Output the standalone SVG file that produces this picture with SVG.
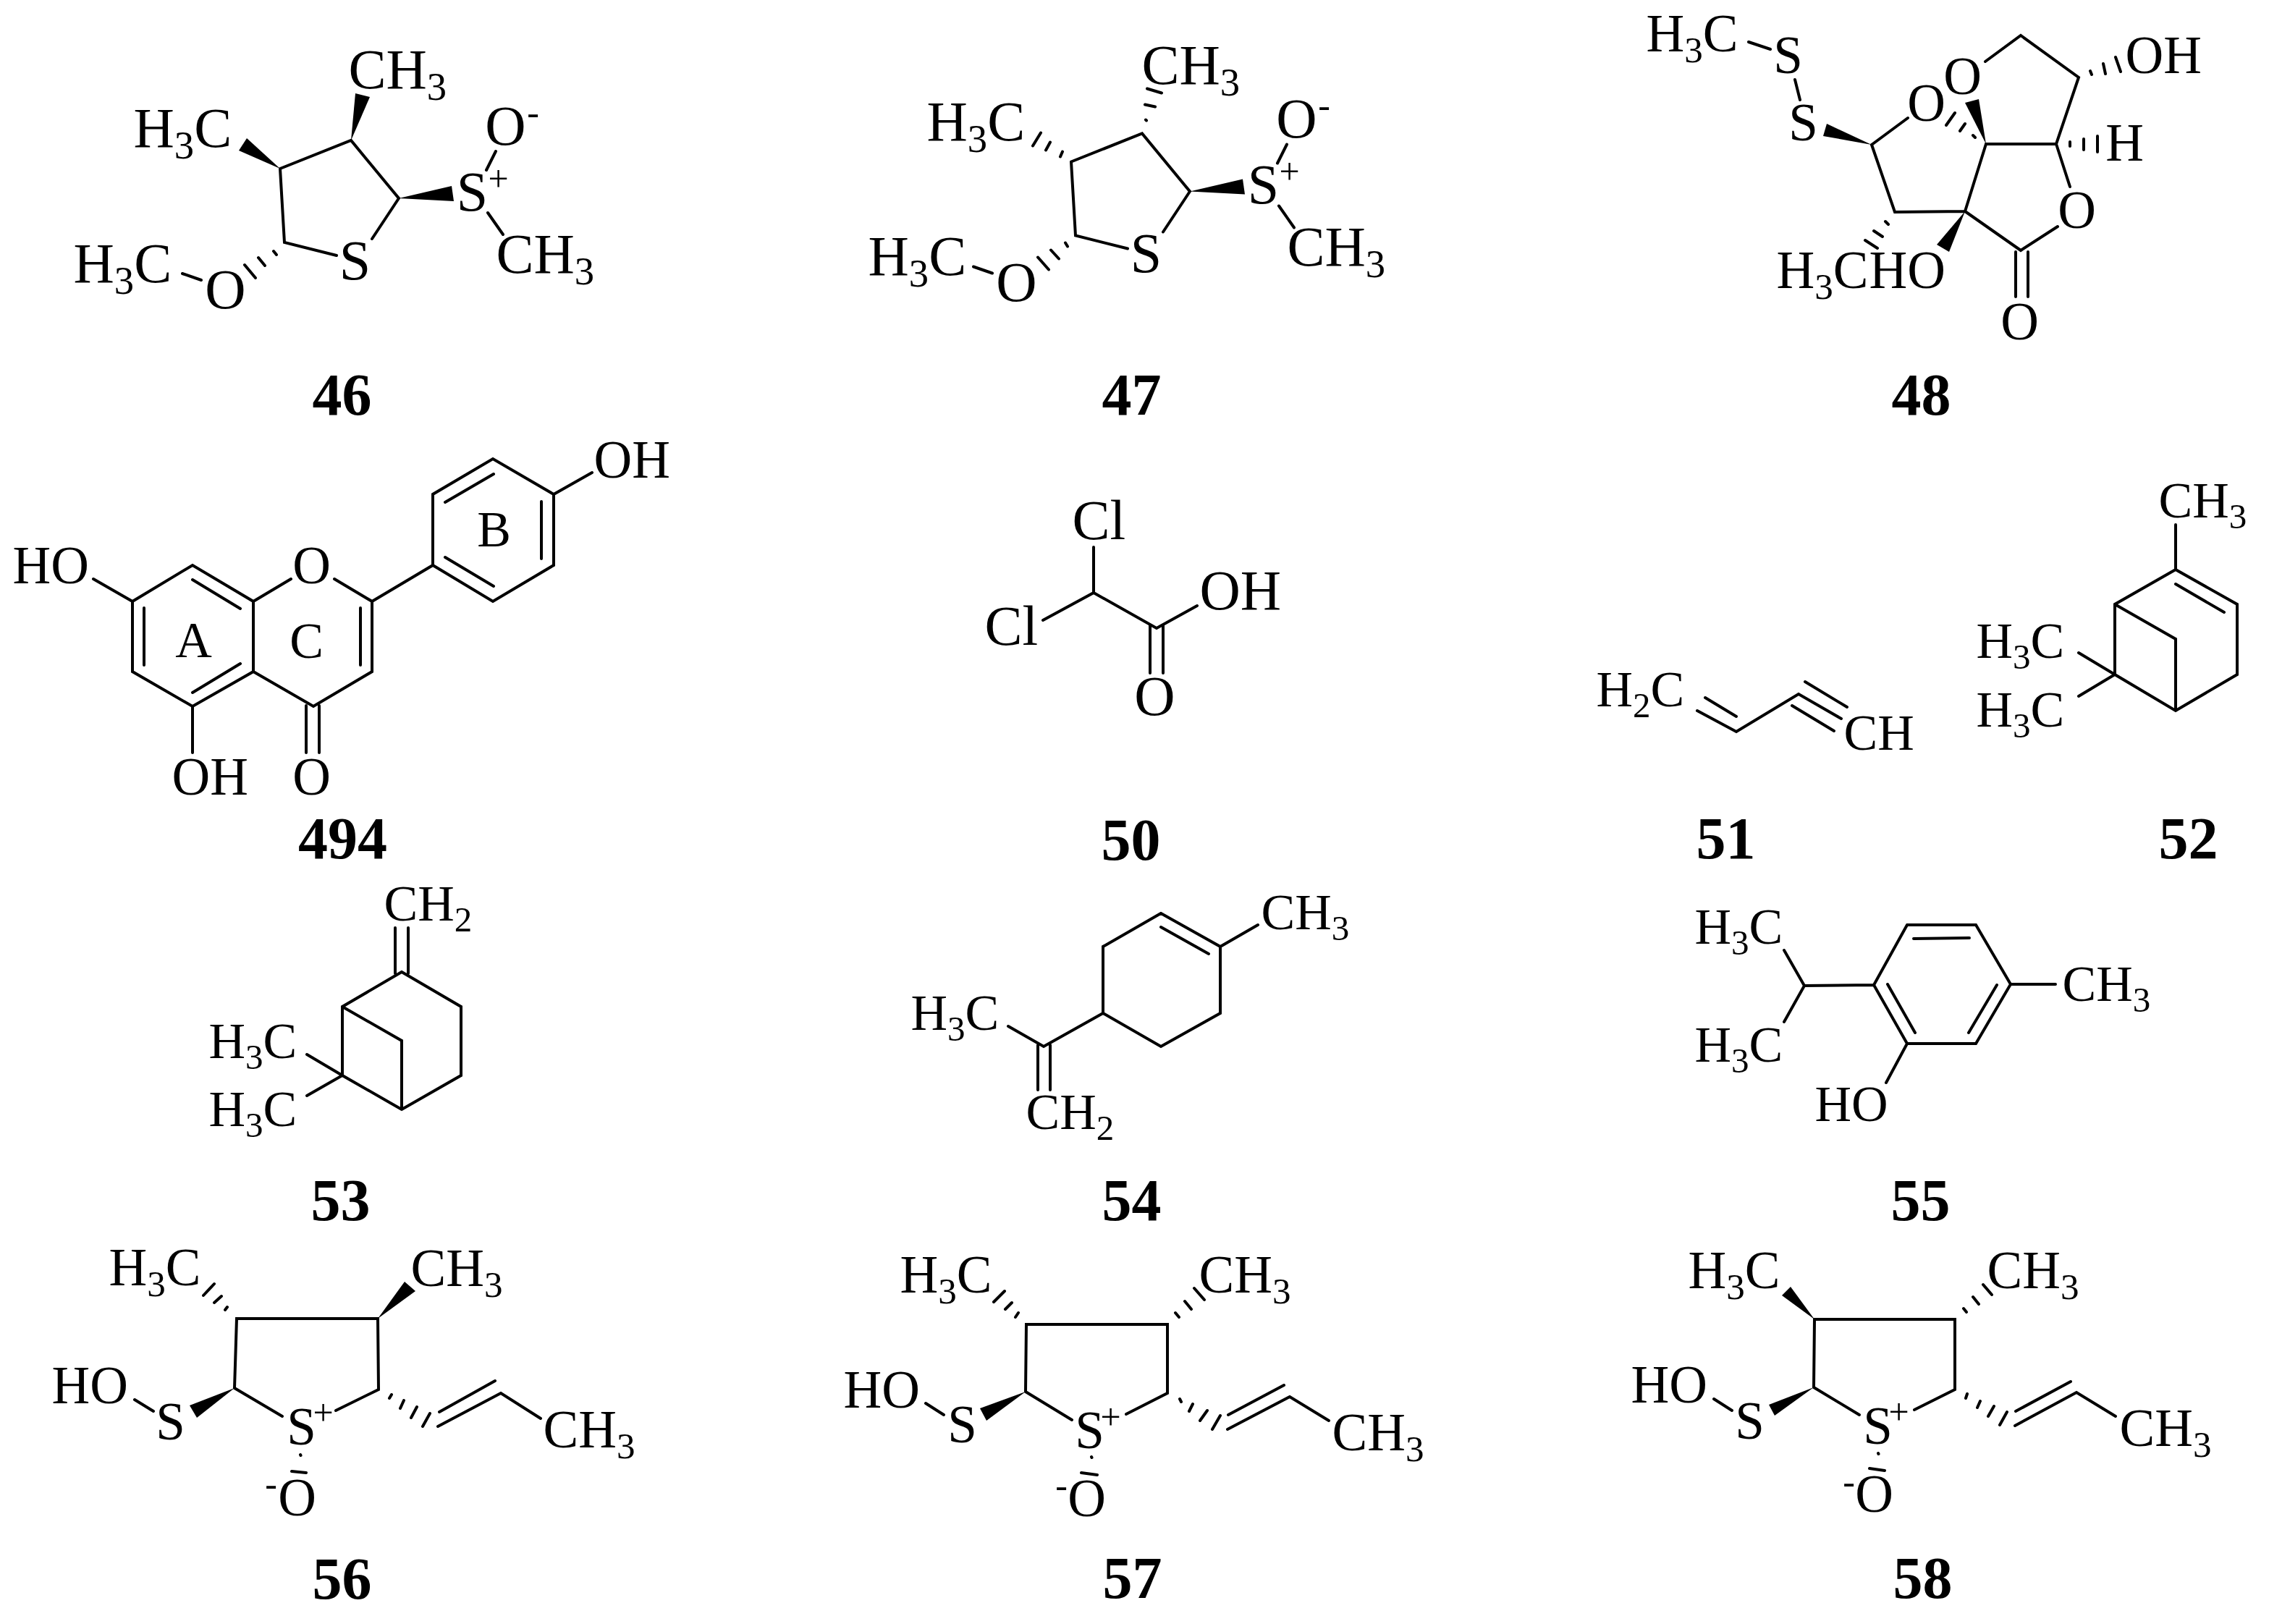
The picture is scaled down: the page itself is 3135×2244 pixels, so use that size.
<svg xmlns="http://www.w3.org/2000/svg" width="3135" height="2244" viewBox="0 0 3135 2244">
<style>
text{font-family:"Liberation Serif","Times New Roman",serif;fill:#000;transform:translate(-2.5px,0)}
.a{font-size:78px}.b{font-size:73px}.c{font-size:70px}
.m{text-anchor:middle}
.u{font-size:.7em;baseline-shift:-.3em}
.q{font-size:50px;text-anchor:middle}
.n{font-size:82px;font-weight:bold;text-anchor:middle;transform:translate(-2.5px,-2px)}
.l{fill:none;stroke:#000;stroke-width:4;stroke-linecap:round;stroke-linejoin:miter}
.w{fill:#000}
</style>
<rect width="3135" height="2244" fill="#fff"/>
<g id="connectors">
<g id="bonds-46">
<path class="l" d="M387 233L485 194L551 274L514 330M387 233L393 335L465 353M672 235L685 209M674 294L695 324M252 378L278 387M378 347L382 352M357 356L366 367M338 366L353 384"/>
<polygon class="w" points="485,194 491,129 511,134"/><polygon class="w" points="387,233 341,191 330,208"/><polygon class="w" points="551,274 624,257 627,278"/>
</g>
<g id="bonds-47" transform="translate(1093 -9.5)">
<path class="l" d="M387 233L485 194L551 274L514 330M387 233L393 335L465 353M672 235L685 209M674 294L695 324M252 378L278 387M379 345L382 350M359 355L370 367M341 365L356 382M490 175L491 176M489 154L503 157M492 132L512 138M375 219L372 226M358 206L352 217M345 193L334 211"/>
<polygon class="w" points="551,274 624,257 627,278"/>
</g>
<g id="bonds-48">
<path class="l" d="M2416 58L2446 68M2480 110L2487 138M2586 200L2636 163M2586 200L2618 293L2715 292L2744 199L2841 199L2872 107L2792 49L2743 85M2841 199L2860 258M2843 313L2792 346L2715 292M2785 348V410M2802 348V410M2726 187L2729 190M2708 181L2715 171M2689 173L2701 156M2605 306L2609 310M2589 319L2601 327M2577 332L2594 343M2888 98L2890 103M2906 88L2909 102M2923 79L2930 99M2860 196V202M2879 192V207M2898 188V210"/>
<polygon class="w" points="2586,200 2524,171 2519,188"/><polygon class="w" points="2744,199 2715,142 2734,137"/><polygon class="w" points="2715,292 2676,338 2693,348"/>
</g>
<g id="bonds-494">
<path class="l" d="M183 831L266 781L350 831V928L266 976L183 928ZM199 840V919M266 801L332 841M332 917L266 957M350 831L402 800M462 800L514 831V928L433 976L350 928M498 840V919M423 975V1040M441 975V1040M266 976V1040M129 800L183 831M514 831L598 781V683L681 634L765 683V781L681 831L598 781M615 694L682 655M748 693V772M615 770L682 810M765 683L818 653"/>
</g>
<g id="bonds-50">
<path class="l" d="M1511 756V819L1441 857M1511 819L1598 868L1654 837M1589 864V930M1607 864V930"/>
</g>
<g id="bonds-51">
<path class="l" d="M2345 982L2399 1011L2485 959L2544 993M2356 964L2399 990M2494 942L2552 977M2476 975L2534 1010"/>
</g>
<g id="bonds-52">
<path class="l" d="M3006 725V787L3091 835V932L3006 982L2922 932V835L3006 787M2922 835L3006 883V982M3006 807L3073 846M2872 902L2922 932L2872 962"/>
</g>
<g id="bonds-53">
<path class="l" d="M546 1282V1345M564 1282V1345M555 1343L637 1391V1486L555 1533L473 1486V1391L555 1343M473 1391L555 1438V1533M424 1457L473 1486L424 1514"/>
</g>
<g id="bonds-54">
<path class="l" d="M1604 1262L1686 1308V1400L1604 1446L1524 1400V1308L1604 1262M1604 1281L1670 1318M1686 1308L1738 1278M1524 1400L1442 1446L1393 1418M1434 1444V1506M1451 1444V1506"/>
</g>
<g id="bonds-55">
<path class="l" d="M2635 1278H2730L2778 1360L2730 1442H2635L2589 1361L2635 1278M2644 1297L2721 1296M2608 1360L2646 1427M2759 1361L2720 1427M2778 1360H2840M2589 1361L2493 1362L2465 1313M2493 1362L2465 1412M2635 1442L2606 1496"/>
</g>
<g id="bonds-56">
<path class="l" d="M324 1918L327 1822H522L523 1920L464 1949M324 1918L390 1957M186 1934L212 1950M311 1810L314 1806M296 1800L306 1791M281 1790L296 1774M541 1927L538 1932M558 1935L553 1946M576 1944L568 1959M594 1953L584 1971M605 1971L692 1925L747 1960M607 1951L684 1908M415 2010L415.500 2011M403 2033L423 2035"/>
<polygon class="w" points="522,1822 559,1771 574,1784"/><polygon class="w" points="324,1918 262,1942 272,1959"/>
</g>
<g id="bonds-57">
<path class="l" d="M1417 1923L1418 1830H1613V1925L1556 1954M1417 1923L1481 1962M1279 1939L1304 1955M1407 1814L1403 1820M1398 1800L1389 1809M1388 1784L1373 1799M1624 1814L1629 1820M1637 1798L1646 1809M1650 1780L1664 1796M1630 1933L1632 1937M1648 1940L1643 1950M1668 1949L1658 1963M1686 1956L1675 1975M1696 1975L1782 1930L1836 1963M1697 1955L1774 1914M1508 2013L1508.500 2014M1494 2035L1516 2038"/>
<polygon class="w" points="1417,1923 1354,1946 1363,1963"/>
</g>
<g id="bonds-58">
<path class="l" d="M2506 1917L2507 1823H2701V1920L2645 1948M2506 1917L2569 1955M2368 1933L2393 1949M2713 1808L2717 1813M2726 1792L2734 1802M2740 1775L2752 1789M2718 1926L2716 1932M2736 1936L2732 1945M2755 1943L2747 1957M2773 1951L2763 1969M2784 1970L2869 1924L2923 1957M2785 1950L2861 1909M2595 2008L2595.500 2009M2583 2029L2604 2032"/>
<polygon class="w" points="2507,1823 2474,1778 2462,1790"/><polygon class="w" points="2506,1917 2444,1941 2452,1956"/>
</g>
</g>
<g id="node-46">
<text class="a" x="187" y="203">H<tspan class="u">3</tspan>C</text>
<text class="a" x="484" y="122">CH<tspan class="u">3</tspan></text>
<text class="a" x="104" y="390">H<tspan class="u">3</tspan>C</text>
<text class="a" x="688" y="377">CH<tspan class="u">3</tspan></text>
<text class="a m" x="314" y="426">O</text><text class="a m" x="493" y="386">S</text><text class="a m" x="655" y="291">S</text>
<text class="q" x="691" y="264">+</text><text class="a m" x="701" y="200">O</text><text class="q" x="739" y="172">-</text>
<text class="n" x="475" y="575">46</text>
</g>
<g id="node-47">
<text class="a" x="1283" y="194">H<tspan class="u">3</tspan>C</text>
<text class="a" x="1580" y="116">CH<tspan class="u">3</tspan></text>
<text class="a" x="1202" y="380">H<tspan class="u">3</tspan>C</text>
<text class="a" x="1781" y="367">CH<tspan class="u">3</tspan></text>
<text class="a m" x="1407" y="416">O</text><text class="a m" x="1586" y="376">S</text><text class="a m" x="1748" y="281">S</text>
<text class="q" x="1784" y="254">+</text><text class="a m" x="1794" y="190">O</text><text class="q" x="1832" y="162">-</text>
<text class="n" x="1566" y="575">47</text>
</g>
<g id="node-48">
<text class="b" x="2277" y="71">H<tspan class="u">3</tspan>C</text>
<text class="b m" x="2473" y="101">S</text><text class="b m" x="2494" y="194">S</text>
<text class="b m" x="2664" y="167">O</text><text class="b m" x="2714" y="130">O</text><text class="b m" x="2872" y="315">O</text><text class="b m" x="2793" y="469">O</text>
<text class="b" x="2939" y="101">OH</text><text class="b m" x="2938" y="222">H</text>
<text class="b" x="2457" y="398">H<tspan class="u">3</tspan>C</text><text class="b" x="2585" y="398">HO</text>
<text class="n" x="2657" y="575">48</text>
</g>
<g id="node-494">
<text class="b" x="20" y="806">HO</text><text class="b" x="240" y="1098">OH</text><text class="b" x="823" y="660">OH</text>
<text class="b m" x="433" y="806">O</text><text class="b m" x="433" y="1098">O</text>
<text class="c m" x="270" y="908">A</text><text class="c m" x="426" y="909">C</text><text class="c m" x="685" y="755">B</text>
<text class="n" x="476" y="1188">494</text>
</g>
<g id="node-50">
<text class="a" x="1484" y="745">Cl</text><text class="a" x="1363" y="891">Cl</text>
<text class="a" x="1660" y="842">OH</text><text class="a m" x="1598" y="988">O</text>
<text class="n" x="1565" y="1190">50</text>
</g>
<g id="node-51">
<text class="c" x="2208" y="976">H<tspan class="u">2</tspan>C</text><text class="c" x="2550" y="1036">CH</text>
<text class="n" x="2387" y="1188">51</text>
</g>
<g id="node-52">
<text class="c" x="2985" y="715">CH<tspan class="u">3</tspan></text>
<text class="c" x="2733" y="909">H<tspan class="u">3</tspan>C</text><text class="c" x="2733" y="1004">H<tspan class="u">3</tspan>C</text>
<text class="n" x="3026" y="1188">52</text>
</g>
<g id="node-53">
<text class="c" x="533" y="1272">CH<tspan class="u">2</tspan></text>
<text class="c" x="291" y="1462">H<tspan class="u">3</tspan>C</text><text class="c" x="291" y="1556">H<tspan class="u">3</tspan>C</text>
<text class="n" x="473" y="1688">53</text>
</g>
<g id="node-54">
<text class="c" x="1745" y="1284">CH<tspan class="u">3</tspan></text>
<text class="c" x="1261" y="1423">H<tspan class="u">3</tspan>C</text>
<text class="c" x="1420" y="1560">CH<tspan class="u">2</tspan></text>
<text class="n" x="1566" y="1688">54</text>
</g>
<g id="node-55">
<text class="c" x="2852" y="1383">CH<tspan class="u">3</tspan></text>
<text class="c" x="2344" y="1304">H<tspan class="u">3</tspan>C</text><text class="c" x="2344" y="1467">H<tspan class="u">3</tspan>C</text>
<text class="c" x="2510" y="1549">HO</text>
<text class="n" x="2656" y="1688">55</text>
</g>
<g id="node-56">
<text class="b" x="153" y="1776">H<tspan class="u">3</tspan>C</text><text class="b" x="570" y="1777">CH<tspan class="u">3</tspan></text>
<text class="b" x="74" y="1939">HO</text><text class="b m" x="238" y="1989">S</text><text class="b m" x="419" y="1996">S</text>
<text class="q" x="449" y="1969">+</text><text class="b m" x="413" y="2094">O</text><text class="q" x="377" y="2067">-</text>
<text class="b" x="753" y="2000">CH<tspan class="u">3</tspan></text>
<text class="n" x="475" y="2211">56</text>
</g>
<g id="node-57">
<text class="b" x="1246" y="1786">H<tspan class="u">3</tspan>C</text><text class="b" x="1659" y="1786">CH<tspan class="u">3</tspan></text>
<text class="b" x="1168" y="1945">HO</text><text class="b m" x="1332" y="1993">S</text><text class="b m" x="1508" y="2001">S</text>
<text class="q" x="1537" y="1975">+</text><text class="b m" x="1504" y="2095">O</text><text class="q" x="1469" y="2069">-</text>
<text class="b" x="1843" y="2004">CH<tspan class="u">3</tspan></text>
<text class="n" x="1567" y="2210">57</text>
</g>
<g id="node-58">
<text class="b" x="2335" y="1780">H<tspan class="u">3</tspan>C</text><text class="b" x="2748" y="1780">CH<tspan class="u">3</tspan></text>
<text class="b" x="2256" y="1938">HO</text><text class="b m" x="2420" y="1988">S</text><text class="b m" x="2597" y="1995">S</text>
<text class="q" x="2626" y="1968">+</text><text class="b m" x="2592" y="2089">O</text><text class="q" x="2557" y="2064">-</text>
<text class="b" x="2931" y="1998">CH<tspan class="u">3</tspan></text>
<text class="n" x="2659" y="2210">58</text>
</g>
</svg>
